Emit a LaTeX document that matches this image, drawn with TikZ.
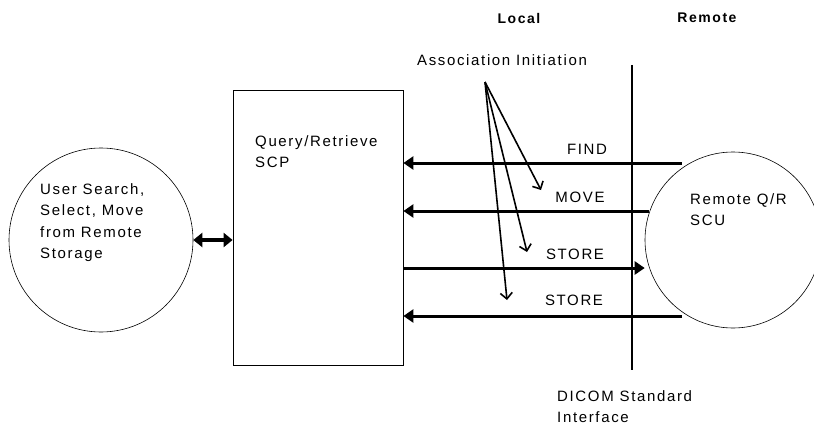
\documentclass[tikz,border=0pt]{standalone}
\usepackage{fontspec}
\setmainfont{Liberation Sans}[LetterSpace=11]
\usetikzlibrary{arrows.meta}
\begin{document}
\begin{tikzpicture}[x=1pt,y=-1pt,
  lbl/.style={font=\fontsize{15}{21.5}\selectfont, inner sep=0pt},
  hdr/.style={font=\fontsize{14}{18}\selectfont\bfseries, inner sep=0pt},
  blk/.style={line width=0.8pt},
  msg/.style={line width=3pt,-{Triangle[length=10pt,width=13pt]}},
  init/.style={line width=1.6pt,-{Straight Barb[length=6pt,width=12pt]}}]
\useasboundingbox (0,0) rectangle (814,428);
% nodes
\node[draw,circle,minimum size=184pt,inner sep=0pt,line width=0.6pt] (user) at (101,240) {};
\node[lbl,align=left,anchor=north west] at (40,183) {User Search,\\Select, Move\\from Remote\\Storage};
\node[draw,blk,minimum width=170pt,minimum height=275pt,inner sep=0pt] (scp) at (318,227.5) {};
\node[lbl,align=left,anchor=north west] at (255,135) {Query/Retrieve\\SCP};
\node[draw,circle,minimum size=176pt,inner sep=0pt,line width=0.6pt] (scu) at (733,240) {};
\node[lbl,align=left,anchor=north west] at (690,193) {Remote Q/R\\SCU};
% vertical interface line
\coordinate (vtop) at (632,65);
\coordinate (vbot) at (632,370);
\draw[line width=2.8pt] (vtop) -- (vbot);
% headers
\node[hdr] (local) at (519,18) {Local};
\node[hdr] (remote) at (707,18) {Remote};
\node[lbl] (assoc) at (502,60) {Association Initiation};
\node[lbl,align=left,anchor=north west] (dicom) at (557,390) {DICOM Standard\\Interface};
% double arrow
\draw[line width=3.5pt,{Triangle[length=9pt,width=14pt]}-{Triangle[length=9pt,width=14pt]}] (user.east) -- (scp.west |- user.east);
% message arrows
\coordinate (f1) at (682,163);
\coordinate (m1) at (649,211);
\coordinate (s2) at (682,316);
\draw[msg] (f1) -- (scp.east |- f1);
\draw[msg] (m1) -- (scp.east |- m1);
\draw[msg] (scp.east |- 0,268) -- (scu.west |- 0,268);
\draw[msg] (s2) -- (scp.east |- s2);
\node[lbl] at (587,149) {FIND};
\node[lbl] at (580,197) {MOVE};
\node[lbl] at (575,254) {STORE};
\node[lbl] at (574,300) {STORE};
% initiation arrows
\coordinate (o) at (485,82);
\coordinate (t1) at (541,190);
\coordinate (t2) at (527,252);
\coordinate (t3) at (507,300);
\draw[init] (o) -- (t1);
\draw[init] (o) -- (t2);
\draw[init] (o) -- (t3);
\end{tikzpicture}
\end{document}
